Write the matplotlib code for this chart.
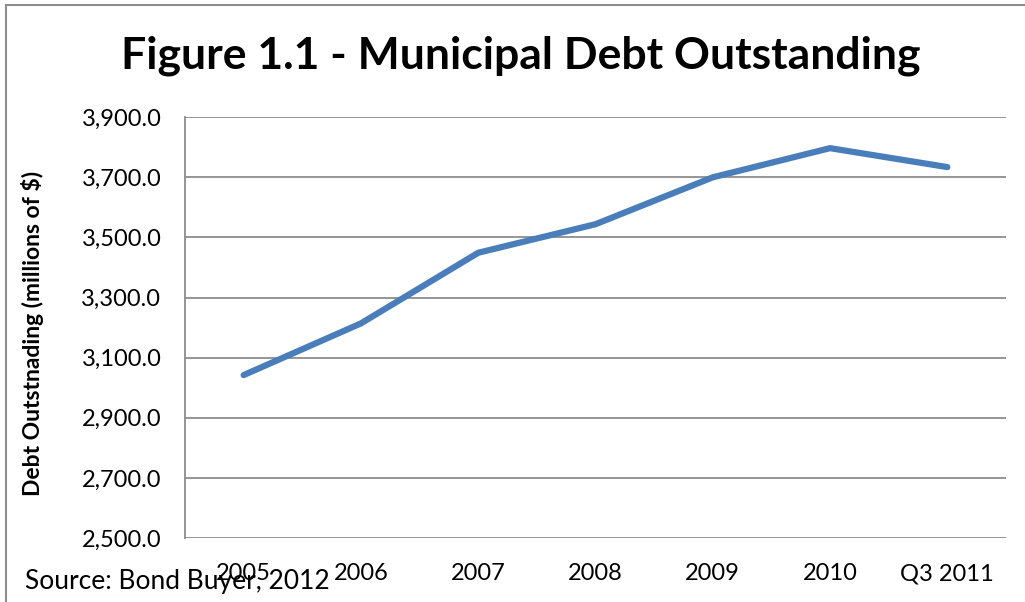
import matplotlib
matplotlib.use("Agg")
import matplotlib.pyplot as plt
from matplotlib.lines import Line2D
from matplotlib.ticker import FuncFormatter

categories = ["2005", "2006", "2007", "2008", "2009", "2010", "Q3 2011"]
debt_outstanding = [3042, 3214, 3449, 3544, 3700, 3797, 3734]
y_ticks = [2500, 2700, 2900, 3100, 3300, 3500, 3700, 3900]

plt.rcParams["font.family"] = ["Lato", "DejaVu Sans"]

W, H = 1025, 602
fig = plt.figure(figsize=(W / 100, H / 100), dpi=100)
fig.patch.set_facecolor("white")

# plot area in pixel coordinates
left, right, top, bottom = 185, 1006, 117.2, 538
ax = fig.add_axes([left / W, 1 - bottom / H, (right - left) / W, (bottom - top) / H])

x = list(range(len(categories)))
ax.plot(x, debt_outstanding, color="#4a7ebb", linewidth=4.5,
        solid_capstyle="round", solid_joinstyle="round", zorder=3)

ax.set_xlim(-0.5, len(categories) - 0.5)
ax.set_ylim(y_ticks[0], y_ticks[-1])
ax.set_yticks(y_ticks)
ax.yaxis.set_major_formatter(FuncFormatter(lambda v, p: f"{v:,.1f}"))
ax.set_xticks(x)
ax.set_xticklabels(categories)

ax.grid(axis="y", color="#8c8c8c", linewidth=1.3, zorder=1)
ax.set_axisbelow(True)
for s in ["top", "right", "bottom"]:
    ax.spines[s].set_visible(False)
ax.spines["left"].set_color("#8c8c8c")
ax.spines["left"].set_linewidth(1.3)

ax.tick_params(axis="y", length=0, pad=17, labelsize=17)
ax.tick_params(axis="x", length=0, pad=18, labelsize=17)

fig.text(33 / W, 1 - 333 / H, "Debt Outstnading (millions of $)", rotation=90,
         ha="center", va="center", fontsize=16.5, fontweight="bold")

fig.text(521 / W, 1 - 56 / H, "Figure 1.1 - Municipal Debt Outstanding",
         ha="center", va="center", fontsize=32, fontweight="bold")

fig.text(25 / W, 1 - 581 / H, "Source: Bond Buyer, 2012",
         ha="left", va="center", fontsize=19)

# chart frame (top and left edges)
fig.add_artist(Line2D([6 / W, 1], [1 - 5 / H, 1 - 5 / H], transform=fig.transFigure,
                      color="#8c8c8c", linewidth=1.5))
fig.add_artist(Line2D([6 / W, 6 / W], [0, 1 - 5 / H], transform=fig.transFigure,
                      color="#8c8c8c", linewidth=1.5))

fig.savefig("out.png", dpi=100, facecolor="white")
